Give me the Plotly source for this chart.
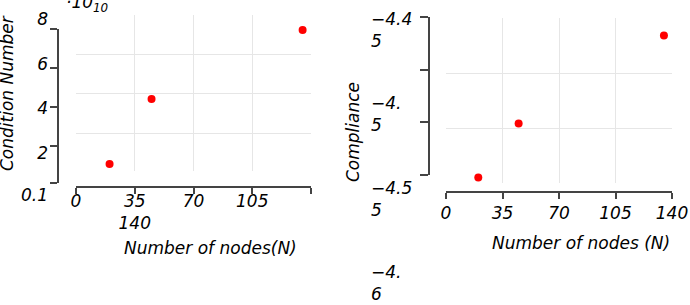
import plotly.graph_objects as go

W, H = 690, 305

# ---------------- data ----------------
nodes = [20, 45, 135]
cond_number = [0.45e10, 3.75e10, 7.24e10]
compliance = [-4.595, -4.546, -4.466]

x_ticks = [0, 35, 70, 105, 140]
x_ticktext_left = ["0", "35<br>140", "70", "105", ""]
x_ticktext_right = ["0", "35", "70", "105", "140"]
cond_ticks = [0.1e10, 2e10, 4e10, 6e10, 8e10]
cond_ticktext = ["0.1", "2", "4", "6", "8"]
comp_ticks = [-4.6, -4.55, -4.5, -4.45]
comp_ticktext = ["−4.<br>6", "−4.5<br>5", "−4.<br>5", "−4.4<br>5"]


def fx(px):
    return px / W


def fy(py):
    return 1 - py / H


FONT = dict(family="DejaVu Sans", size=17, color="black", style="italic")
TFONT = dict(family="DejaVu Sans", size=17, color="black", style="italic")
GRID = "#e6e6e6"
LINE = "#444444"
RED = "#ff0000"

fig = go.Figure()

# data traces
fig.add_trace(go.Scatter(x=nodes, y=cond_number, mode="markers",
                         marker=dict(color=RED, size=8), xaxis="x", yaxis="y",
                         showlegend=False))
fig.add_trace(go.Scatter(x=nodes, y=compliance, mode="markers",
                         marker=dict(color=RED, size=8), xaxis="x2", yaxis="y2",
                         showlegend=False))
# invisible carriers for the offset decoration axes
for xa, ya, yv in [("x3", "y3", cond_number), ("x3", "y4", cond_number),
                   ("x5", "y3", cond_number),
                   ("x4", "y5", compliance), ("x4", "y6", compliance)]:
    fig.add_trace(go.Scatter(x=nodes, y=yv, mode="markers", marker=dict(opacity=0),
                             xaxis=xa, yaxis=ya, hoverinfo="skip", showlegend=False))

L_XDOM = [fx(76), fx(311)]
R_XDOM = [fx(446), fx(672)]

grid_common = dict(showgrid=True, gridcolor=GRID, gridwidth=1, zeroline=False,
                   showline=False, ticks="", showticklabels=False, automargin=False)
deco = dict(showgrid=False, zeroline=False, automargin=False)

fig.update_layout(
    width=W, height=H, margin=dict(l=0, r=0, t=0, b=0, autoexpand=False),
    paper_bgcolor="white", plot_bgcolor="rgba(0,0,0,0)",
    font=FONT, showlegend=False,
    # ---- left grid ----
    xaxis=dict(domain=L_XDOM, range=[0, 140], tickvals=x_ticks, anchor="y", **grid_common),
    yaxis=dict(domain=[fy(171), fy(15)], range=[0.1e10, 8e10], tickvals=cond_ticks,
               anchor="x", **grid_common),
    # ---- right grid ----
    xaxis2=dict(domain=R_XDOM, range=[0, 140], tickvals=x_ticks, anchor="y2", **grid_common),
    yaxis2=dict(domain=[fy(183), fy(18)], range=[-4.6, -4.45], tickvals=comp_ticks,
                anchor="x2", **grid_common),
    # ---- left decoration x axis (line + ticks) ----
    xaxis3=dict(domain=L_XDOM, range=[0, 140], anchor="free", position=fy(187),
                showline=True, linecolor=LINE, linewidth=1.5,
                ticks="outside", ticklen=6, tickcolor=LINE, tickwidth=1.5,
                tickvals=x_ticks, showticklabels=False, **deco),
    # ---- left x tick labels ----
    xaxis5=dict(domain=L_XDOM, range=[0, 140], anchor="free", position=fy(189),
                showline=False, ticks="",
                tickvals=x_ticks, ticktext=x_ticktext_left, tickfont=FONT, **deco),
    yaxis3=dict(domain=[fy(183), fy(29)], range=[0.1e10, 8e10], anchor="free", position=fx(58),
                showline=True, linecolor=LINE, linewidth=1.5,
                ticks="outside", ticklen=7, tickcolor=LINE, tickwidth=1.5,
                tickvals=cond_ticks, showticklabels=False, **deco),
    yaxis4=dict(domain=[fy(195), fy(19)], range=[0.1e10, 8e10], anchor="free", position=fx(48),
                showline=False, ticks="",
                tickvals=cond_ticks, ticktext=cond_ticktext, tickfont=FONT, **deco),
    # ---- right decoration axes ----
    xaxis4=dict(domain=R_XDOM, range=[0, 140], anchor="free", position=fy(192),
                showline=True, linecolor=LINE, linewidth=1.5,
                ticks="outside", ticklen=6, tickcolor=LINE, tickwidth=1.5,
                tickvals=x_ticks, ticktext=x_ticktext_right, tickfont=FONT, **deco),
    yaxis5=dict(domain=[fy(175), fy(17)], range=[-4.6, -4.45], anchor="free", position=fx(429),
                showline=True, linecolor=LINE, linewidth=1.5,
                ticks="outside", ticklen=8, tickcolor=LINE, tickwidth=1.5,
                tickvals=comp_ticks, showticklabels=False, **deco),
    yaxis6=dict(domain=[fy(283), fy(30)], range=[-4.6, -4.45], anchor="free", position=fx(370),
                side="right", showline=False, ticks="",
                tickvals=comp_ticks, ticktext=comp_ticktext, tickfont=FONT, **deco),
)

# axis titles and multiplier
ann = dict(xref="paper", yref="paper", showarrow=False, font=TFONT,
           xanchor="center", yanchor="middle")
fig.add_annotation(text="Condition Number", x=fx(7), y=fy(93), textangle=-90, **ann)
fig.add_annotation(text="Compliance", x=fx(353), y=fy(132), textangle=-90, **ann)
fig.add_annotation(text="Number of nodes(N)", x=fx(210), y=fy(248), **ann)
fig.add_annotation(text="Number of nodes (N)", x=fx(581), y=fy(243), **ann)
fig.add_annotation(text="·10<sub>10</sub>", x=fx(64), y=fy(4),
                   xref="paper", yref="paper", showarrow=False, font=TFONT,
                   xanchor="left", yanchor="middle")

fig.write_html("out.html")
